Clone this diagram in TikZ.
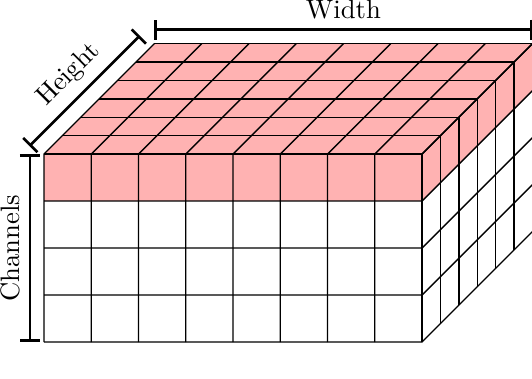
\documentclass[tikz,border=0pt]{standalone}
\usepackage{amsmath,amssymb}
\usepackage{tikz}
\usetikzlibrary{arrows.meta,calc}

\tikzset{
  cell/.style={line width=0.5pt},
  layer/.style={fill=red!30},
  dimline/.style={line width=1pt,{Bar[width=7.5pt]}-{Bar[width=7.5pt]}}
}

\begin{document}
\begin{tikzpicture}[x=17.72pt,y=17.62pt,z={(6.9pt,6.9pt)}]
      \useasboundingbox (-16.5pt,-13.5pt) rectangle (183pt,128.25pt);
      \coordinate (f0) at (0,0,0); \coordinate (fl) at (0,4,0);
      \coordinate (bl) at (0,4,6); \coordinate (br) at (8,4,6);
      \fill[layer] (0,3,0) rectangle (8,4,0);
      \fill[layer] (0,4,0) -- (8,4,0) -- (8,4,6) -- (0,4,6) -- cycle;
      \fill[layer] (8,3,0) -- (8,4,0) -- (8,4,6) -- (8,3,6) -- cycle;
      \foreach \i in {0,...,8} \draw[cell] (\i,0,0) -- (\i,4,0) -- (\i,4,6);
      \foreach \j in {0,...,4} \draw[cell] (0,\j,0) -- (8,\j,0) -- (8,\j,6);
      \foreach \k in {0,...,6} \draw[cell] (0,4,\k) -- (8,4,\k) -- (8,0,\k);
      \draw[dimline] ($(bl)+(0,5.25pt)$) -- ($(br)+(0,5.25pt)$) node[midway,above] {Width};
      \draw[dimline] ($(fl)+(-5.5pt,3pt)$) -- ($(bl)+(-5.5pt,3pt)$) node[midway,above,sloped] {Height};
      \draw[dimline] ($(f0)+(-5.25pt,0)$) -- ($(fl)+(-5.25pt,0)$) node[midway,above,sloped] {Channels};
    \end{tikzpicture}
\end{document}
